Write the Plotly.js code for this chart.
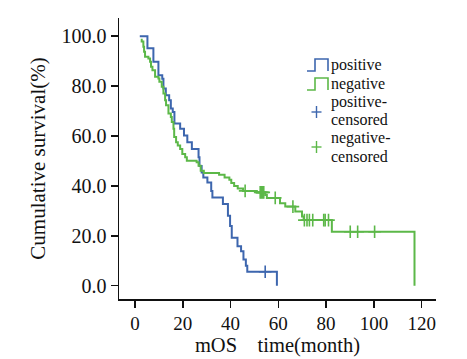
<!DOCTYPE html>
<html><head><meta charset="utf-8">
<script src="https://cdn.plot.ly/plotly-3.0.1.min.js"></script>
<style>html,body{margin:0;padding:0;background:#fff}#chart{width:467px;height:359px}</style>
</head><body><div id="chart"></div>
<script>
// positive group: step times (months) and cumulative survival (%)
const posTime = [2, 5.2, 7.7, 9.8, 11.4, 11.9, 12.9, 14.3, 15.0, 15.8, 16.5, 18.9, 20.5, 21.9, 23.8, 26.6, 27.0, 27.9, 28.6, 30.3, 31.9, 32.4, 36.8, 38.9, 39.8, 40.5, 42.9, 44.4, 45.4, 46.4, 47.0, 59.4];
const posSurv = [100, 95.2, 89.8, 84.4, 83.0, 79.0, 76.3, 74.3, 71.0, 69.6, 65.0, 62.9, 60.2, 57.5, 54.8, 51.5, 48.0, 45.4, 43.4, 41.4, 38.0, 35.4, 32.7, 28.0, 23.9, 19.2, 15.8, 13.8, 10.5, 8.0, 5.6, 0];
// negative group
const negTime = [2.4, 2.8, 3.5, 3.8, 4.2, 5.6, 6.3, 6.7, 7.3, 8.4, 9.8, 10.2, 11.2, 11.9, 12.6, 13.0, 14.0, 15.0, 15.4, 16.1, 16.4, 17.2, 17.9, 18.9, 19.8, 21.0, 21.7, 25.8, 26.6, 27.5, 28.8, 35.2, 37.5, 39.5, 40.3, 41.5, 43.0, 45.2, 51.0, 54.5, 55.2, 60.7, 62.9, 67.1, 69.9, 70.6, 82.4, 117];
const negSurv = [98.6, 97.9, 95.8, 93.8, 91.8, 91.1, 89.8, 87.8, 86.4, 83.8, 83.1, 81.7, 79.7, 77.0, 74.3, 72.3, 69.0, 67.6, 65.6, 62.9, 59.6, 57.5, 56.2, 54.8, 52.8, 51.5, 50.1, 49.5, 48.1, 46.1, 45.2, 44.5, 43.4, 42.5, 41.2, 40.0, 39.0, 38.0, 37.4, 36.4, 35.2, 33.0, 31.7, 29.7, 27.7, 26.3, 21.6, 0];
// censored observations
const posCensTime = [54.5];
const posCensSurv = [5.6];
const negCensTime = [46.1, 52.4, 52.9, 53.4, 53.9, 58.7, 66.1, 70.9, 72.0, 73.0, 74.4, 79.0, 79.6, 81.0, 90.1, 93.2, 100.3];
const negCensSurv = [38.0, 37.4, 37.4, 37.4, 37.4, 35.2, 31.7, 26.3, 26.3, 26.3, 26.3, 26.3, 26.3, 26.3, 21.6, 21.6, 21.6];
// ticks and labels
const xTicks = [0, 20, 40, 60, 80, 100, 120];
const yTicks = [0, 20, 40, 60, 80, 100];
const seriesNames = ['positive', 'negative', 'positive-censored', 'negative-censored'];
const legendLines = [['positive'], ['negative'], ['positive-', 'censored'], ['negative-', 'censored']];

const BLUE = '#3d66ae', GREEN = '#5cb848';
const FONT = '"Liberation Serif", "Times New Roman", serif';
const W = 467, H = 359, M = {l: 119, r: 31, t: 18, b: 60};

const traces = [
  {x: posTime, y: posSurv, type: 'scatter', mode: 'lines', name: seriesNames[0],
   line: {shape: 'hv', color: BLUE, width: 2}},
  {x: negTime, y: negSurv, type: 'scatter', mode: 'lines', name: seriesNames[1],
   line: {shape: 'hv', color: GREEN, width: 2}},
  {x: posCensTime, y: posCensSurv, type: 'scatter', mode: 'markers', name: seriesNames[2],
   marker: {symbol: 'cross-thin', size: 9, color: BLUE, line: {color: BLUE, width: 1.6}}},
  {x: negCensTime, y: negCensSurv, type: 'scatter', mode: 'markers', name: seriesNames[3],
   marker: {symbol: 'cross-thin', size: 9, color: GREEN, line: {color: GREEN, width: 1.6}}}
];

// custom legend (pixel layout -> paper coords)
const pw = W - M.l - M.r, ph = H - M.t - M.b;
const px = v => (v - M.l) / pw;
const py = v => 1 - (v - M.t) / ph;
const shapes = [], annotations = [];
function stepIcon(cy, color) {
  const yb = cy + 6, yt = cy - 6;
  shapes.push({type: 'path', xref: 'paper', yref: 'paper',
    path: `M${px(307)},${py(yb)} L${px(315)},${py(yb)} L${px(315)},${py(yt)} L${px(328)},${py(yt)} L${px(328)},${py(yb)}`,
    line: {color: color, width: 1.6}});
}
function plusIcon(cy, color) {
  shapes.push({type: 'line', xref: 'paper', yref: 'paper', x0: px(311.5), x1: px(321.5), y0: py(cy), y1: py(cy), line: {color: color, width: 1.4}});
  shapes.push({type: 'line', xref: 'paper', yref: 'paper', x0: px(316.5), x1: px(316.5), y0: py(cy - 6), y1: py(cy + 6), line: {color: color, width: 1.4}});
}
function label(text, cy) {
  annotations.push({text: text, xref: 'paper', yref: 'paper', x: px(330), y: py(cy), xanchor: 'left', yanchor: 'middle',
    showarrow: false, borderpad: 0, font: {family: FONT, size: 16, color: '#111'}});
}
stepIcon(65, BLUE); label(legendLines[0][0], 65);
stepIcon(84, GREEN); label(legendLines[1][0], 84);
plusIcon(112, BLUE); label(legendLines[2][0], 102); label(legendLines[2][1], 120);
plusIcon(147, GREEN); label(legendLines[3][0], 138); label(legendLines[3][1], 156);

const layout = {
  width: W, height: H,
  margin: {l: M.l, r: M.r, t: M.t, b: M.b, pad: 0},
  paper_bgcolor: '#fff', plot_bgcolor: '#fff',
  font: {family: FONT, color: '#111', size: 16},
  showlegend: false,
  shapes: shapes, annotations: annotations,
  xaxis: {range: [-6.7, 126], tickvals: xTicks, ticktext: xTicks.map(String),
          ticks: 'outside', ticklen: 7, tickwidth: 1.5, tickcolor: '#111',
          showline: true, linewidth: 1.5, linecolor: '#111', showgrid: false, zeroline: false,
          tickfont: {family: FONT, size: 19, color: '#111'},
          title: {text: 'mOS\u00a0\u00a0\u00a0\u00a0time(month)', font: {family: FONT, size: 20.5, color: '#111'}, standoff: 0}},
  yaxis: {range: [-5.33, 107.3], tickvals: yTicks, tickformat: '.1f',
          ticks: 'outside', ticklen: 7, tickwidth: 1.5, tickcolor: '#111',
          showline: true, linewidth: 1.5, linecolor: '#111', showgrid: false, zeroline: false,
          tickfont: {family: FONT, size: 20, color: '#111'},
          title: {text: 'Cumulative survival(%)', font: {family: FONT, size: 21, color: '#111'}, standoff: 10}}
};

Plotly.newPlot('chart', traces, layout, {displayModeBar: false, staticPlot: true});
</script>
</body></html>
